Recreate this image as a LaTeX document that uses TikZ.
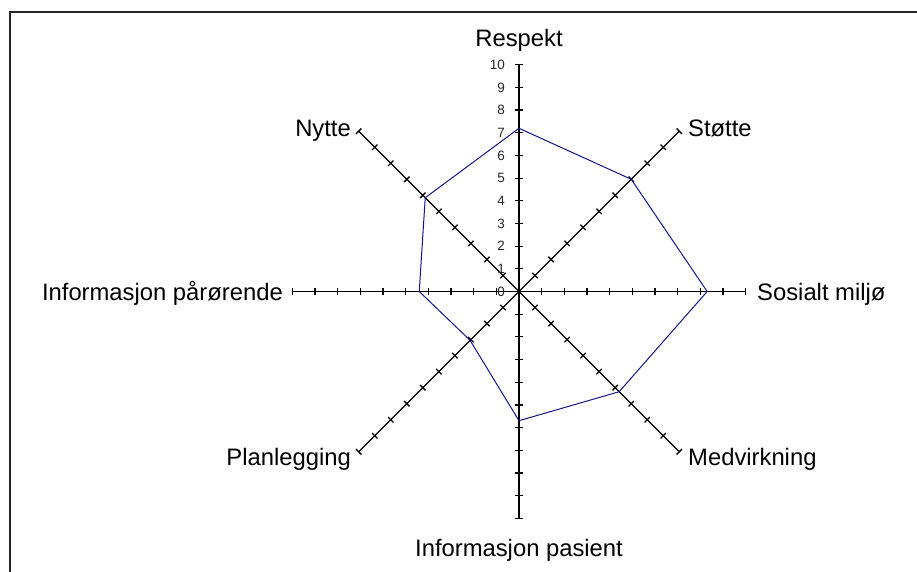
\documentclass[tikz,border=0pt]{standalone}
\usepackage{fontspec}
\setmainfont{Liberation Sans}
\definecolor{polyblue}{RGB}{20,20,140}
\tikzset{
  axisline/.style={line width=1.3pt, draw=black},
  tickmark/.style={line width=1.3pt, draw=black},
  frameline/.style={line width=2pt, draw=black!85},
  scoreline/.style={line width=1pt, draw=polyblue, line join=miter},
  axislabel/.style={font=\fontsize{23.8}{27}\selectfont, inner sep=0pt},
  scalelabel/.style={font=\fontsize{13.5}{15}\selectfont, inner sep=0pt, anchor=east, text=black!85},
}
\begin{document}
\begin{tikzpicture}[x=1pt, y=-1pt]
\useasboundingbox (0,0) rectangle (917,572);
\clip (0,0) rectangle (917,572);
% outer frame (runs off the right and bottom edges)
\draw[frameline] (10,12) rectangle (960,620);

\def\unit{22.67}
\coordinate (O) at (519,291.5);

\begin{scope}[shift={(O)}]
  % the eight axes, clockwise from the top
  \foreach \a/\n/\v in {-90/respekt/7.2, -45/stotte/7.0, 0/sosialt/8.3,
                        45/medvirkning/6.25, 90/infopasient/5.7, 135/planlegging/3.05,
                        180/infoparorende/4.4, 225/nytte/5.85} {
    \coordinate (end-\n) at (\a:{10*\unit});
    \coordinate (v-\n) at (\a:{\v*\unit});
    \draw[axisline] (O) -- (end-\n);
    \foreach \k in {1,...,10}
      \draw[tickmark] (\a:{\k*\unit}) ++({\a+90}:3.8) -- ++({\a-90}:7.6);
  }
\end{scope}

% scores
\draw[scoreline] (v-respekt) -- (v-stotte) -- (v-sosialt) -- (v-medvirkning)
  -- (v-infopasient) -- (v-planlegging) -- (v-infoparorende) -- (v-nytte) -- cycle;

% scale numbers on the upper axis
\foreach \k in {0,...,10}
  \node[scalelabel] (num\k) at (505,{291.5-\k*\unit}) {\k};

% axis titles
\node[axislabel, anchor=base] (lab-respekt) at (519,47) {Respekt};
\node[axislabel, anchor=base west] (lab-stotte) at (688,136.7) {Støtte};
\node[axislabel, anchor=base west] (lab-sosialt) at (757,300.5) {Sosialt miljø};
\node[axislabel, anchor=base west] (lab-medvirkning) at (688,465) {Medvirkning};
\node[axislabel, anchor=base] (lab-infopasient) at (519,556) {Informasjon pasient};
\node[axislabel, anchor=base east] (lab-planlegging) at (351,465) {Planlegging};
\node[axislabel, anchor=base east] (lab-infoparorende) at (283,300.5) {Informasjon pårørende};
\node[axislabel, anchor=base east] (lab-nytte) at (351,136.7) {Nytte};
\end{tikzpicture}
\end{document}
